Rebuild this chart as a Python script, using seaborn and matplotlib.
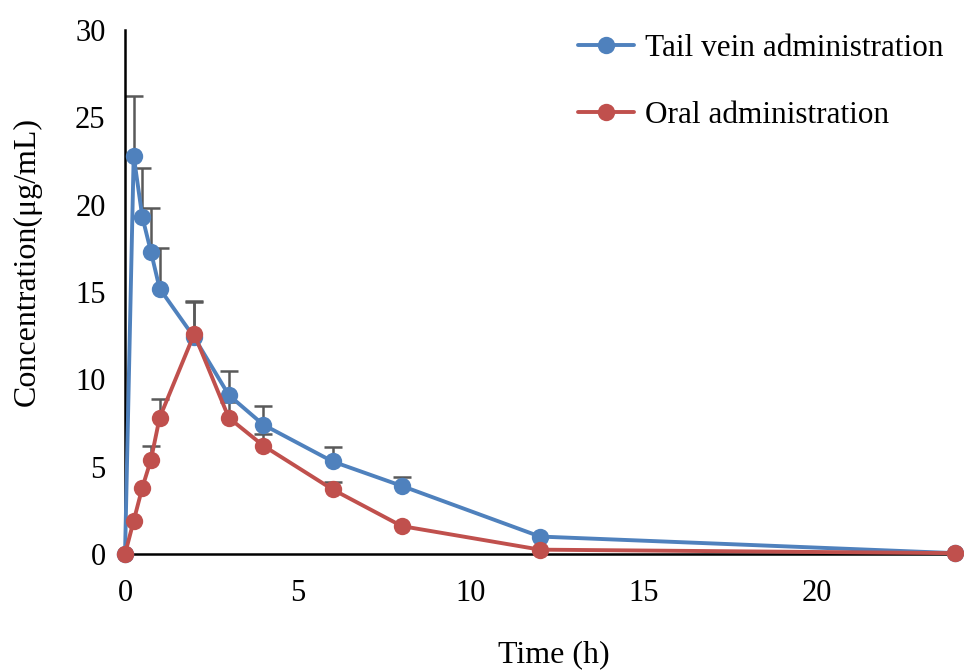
import numpy as np
import pandas as pd
import matplotlib
matplotlib.use("Agg")
import matplotlib.pyplot as plt
import seaborn as sns

time_h = [0, 0.25, 0.5, 0.75, 1, 2, 3, 4, 6, 8, 12, 24]
iv_conc = [0.0, 22.8, 19.3, 17.3, 15.2, 12.4, 9.1, 7.4, 5.3, 3.9, 1.0, 0.05]
iv_sd = [0.0, 3.4, 2.8, 2.5, 2.3, 2.1, 1.4, 1.1, 0.8, 0.5, 0.0, 0.0]
oral_conc = [0.0, 1.9, 3.8, 5.4, 7.8, 12.6, 7.8, 6.2, 3.7, 1.6, 0.25, 0.05]
oral_sd = [0.0, 0.0, 0.0, 0.8, 1.1, 1.8, 0.9, 0.7, 0.4, 0.0, 0.0, 0.0]
series_names = ["Tail vein administration", "Oral administration"]
colors = ["#4F81BD", "#C0504D"]

df = pd.DataFrame({
    "Time": time_h * 2,
    "Conc": iv_conc + oral_conc,
    "Group": [series_names[0]] * len(time_h) + [series_names[1]] * len(time_h),
})

sns.set_style("white")
plt.rcParams["font.family"] = ["Liberation Serif", "DejaVu Serif"]
for k in ["text.color", "axes.labelcolor", "xtick.color", "ytick.color"]:
    plt.rcParams[k] = "black"

fig = plt.figure(figsize=(9.64, 6.70), dpi=100)
ax = fig.add_axes([0.1297, 0.1731, 0.8610, 0.7821])

# error bars (upper only)
t_arr = np.array(time_h)
for conc, sd in [(iv_conc, iv_sd), (oral_conc, oral_sd)]:
    c = np.array(conc)
    s = np.array(sd)
    m = s > 0
    ax.vlines(t_arr[m], c[m], c[m] + s[m], color="#595959", linewidth=1.8, zorder=1)
    ax.scatter(t_arr[m], c[m] + s[m], marker="_", s=180,
               color="#595959", linewidths=1.8, zorder=1)

sns.lineplot(data=df, x="Time", y="Conc", hue="Group", palette=colors,
             marker="o", markersize=12.5, markeredgewidth=0, linewidth=2.8,
             ax=ax, zorder=3, clip_on=False)

ax.set_xlim(0, 24)
ax.set_ylim(0, 30)
ax.set_xticks([0, 5, 10, 15, 20])
ax.set_yticks([0, 5, 10, 15, 20, 25, 30])
ax.tick_params(axis="both", labelsize=22, length=0)
ax.tick_params(axis="x", pad=18)
ax.tick_params(axis="y", pad=14)
ax.set_xlabel("Time (h)", fontsize=23, va="center")
ax.set_ylabel("Concentration(\u03bcg/mL)", fontsize=23, va="center")
ax.xaxis.set_label_coords(0.516, -0.193)
ax.yaxis.set_label_coords(-0.118, 0.559)

for s in ["top", "right"]:
    ax.spines[s].set_visible(False)
for s in ["left", "bottom"]:
    ax.spines[s].set_color("black")
    ax.spines[s].set_linewidth(1.8)

leg = ax.legend(loc="upper right", bbox_to_anchor=(1.02, 1.046), frameon=False,
                fontsize=22.5, handlelength=1.8, labelspacing=1.22, handletextpad=0.35)

fig.savefig("out.png", dpi=100)
